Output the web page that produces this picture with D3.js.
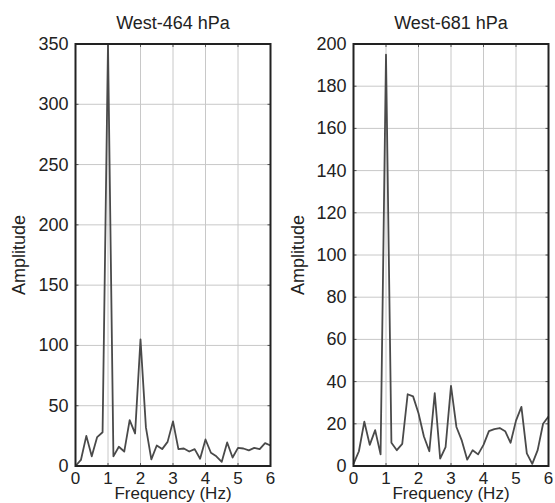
<!DOCTYPE html>
<html>
<head>
<meta charset="utf-8">
<script src="https://cdn.jsdelivr.net/npm/d3@7"></script>
<style>
  body { margin: 0; background: #fff; }
  svg { font-family: "Liberation Sans", Arial, sans-serif; }
</style>
</head>
<body>
<div id="chart"></div>
<script>
const W = 555, H = 503;

// frequency steps of 1/6 Hz, 0..6
const freqs = d3.range(37).map(i => i / 6);

const amp464 = [0, 5, 25, 8, 24, 28, 350, 8, 16, 12, 38, 27, 105, 32, 5.5, 17, 14, 20,
  37, 14, 14.5, 12, 14, 6, 22, 11, 8, 3.5, 19.5, 7, 15, 14.5, 13, 15, 14, 19, 17];

const amp681 = [1, 7, 21, 10, 17, 5.5, 195, 11, 7.5, 10.5, 34, 33, 25, 14, 7, 34.5, 3.5, 9,
  38, 18.5, 12, 3, 7.5, 5.5, 10, 16.5, 17.5, 18, 16.5, 11, 21.5, 28, 6, 1, 7.5, 20, 23.5];

const xTicks = [0, 1, 2, 3, 4, 5, 6];
const yTicks464 = [0, 50, 100, 150, 200, 250, 300, 350];
const yTicks681 = [0, 20, 40, 60, 80, 100, 120, 140, 160, 180, 200];

const panels = [
  { title: 'West-464 hPa', values: amp464, yMax: 350, yTicks: yTicks464, left: 75.5, right: 270.5, labelX: 19 },
  { title: 'West-681 hPa', values: amp681, yMax: 200, yTicks: yTicks681, left: 353.5, right: 548.5, labelX: 298 }
];

const TOP = 44, BOTTOM = 466;

const svg = d3.select('#chart').append('svg')
  .attr('width', W)
  .attr('height', H);

panels.forEach(p => {
  const x = d3.scaleLinear().domain([0, 6]).range([p.left, p.right]);
  const y = d3.scaleLinear().domain([0, p.yMax]).range([BOTTOM, TOP]);
  const g = svg.append('g');

  // grid
  g.selectAll('.vgrid').data(xTicks.slice(1, -1)).join('line')
    .attr('x1', d => x(d)).attr('x2', d => x(d))
    .attr('y1', TOP).attr('y2', BOTTOM)
    .attr('stroke', '#c8c8c8').attr('stroke-width', 1);
  g.selectAll('.hgrid').data(p.yTicks.slice(1, -1)).join('line')
    .attr('x1', p.left).attr('x2', p.right)
    .attr('y1', d => y(d)).attr('y2', d => y(d))
    .attr('stroke', '#c8c8c8').attr('stroke-width', 1);

  // inward ticks on all four sides
  const tl = 3;
  g.selectAll('.tb').data(xTicks).join('line')
    .attr('x1', d => x(d)).attr('x2', d => x(d))
    .attr('y1', BOTTOM).attr('y2', BOTTOM - tl).attr('stroke', '#555');
  g.selectAll('.tt').data(xTicks).join('line')
    .attr('x1', d => x(d)).attr('x2', d => x(d))
    .attr('y1', TOP).attr('y2', TOP + tl).attr('stroke', '#555');
  g.selectAll('.tl').data(p.yTicks).join('line')
    .attr('x1', p.left).attr('x2', p.left + tl)
    .attr('y1', d => y(d)).attr('y2', d => y(d)).attr('stroke', '#555');
  g.selectAll('.tr').data(p.yTicks).join('line')
    .attr('x1', p.right).attr('x2', p.right - tl)
    .attr('y1', d => y(d)).attr('y2', d => y(d)).attr('stroke', '#555');

  // data line
  const line = d3.line().x((d, i) => x(freqs[i])).y(d => y(d));
  g.append('path')
    .datum(p.values)
    .attr('d', line)
    .attr('fill', 'none')
    .attr('stroke', '#4a4a4a')
    .attr('stroke-width', 1.8)
    .attr('stroke-linejoin', 'round');

  // frame
  g.append('rect')
    .attr('x', p.left).attr('y', TOP)
    .attr('width', p.right - p.left).attr('height', BOTTOM - TOP)
    .attr('fill', 'none').attr('stroke', '#222').attr('stroke-width', 2);

  // tick labels
  g.selectAll('.xl').data(xTicks).join('text')
    .attr('x', d => x(d)).attr('y', 484)
    .attr('text-anchor', 'middle')
    .attr('font-size', 17).attr('fill', '#222')
    .text(d => d);
  g.selectAll('.yl').data(p.yTicks).join('text')
    .attr('x', p.left - 7).attr('y', d => y(d) + 6)
    .attr('text-anchor', 'end')
    .attr('font-size', 18).attr('fill', '#222')
    .text(d => d);

  // title + axis labels
  g.append('text')
    .attr('x', (p.left + p.right) / 2).attr('y', 29)
    .attr('text-anchor', 'middle')
    .attr('font-size', 18).attr('fill', '#222')
    .text(p.title);
  g.append('text')
    .attr('x', (p.left + p.right) / 2).attr('y', 499)
    .attr('text-anchor', 'middle')
    .attr('font-size', 17).attr('fill', '#222')
    .text('Frequency (Hz)');
  g.append('text')
    .attr('transform', `translate(${p.labelX + 6},${(TOP + BOTTOM) / 2}) rotate(-90)`)
    .attr('text-anchor', 'middle')
    .attr('font-size', 18).attr('fill', '#222')
    .text('Amplitude');
});
</script>
</body>
</html>
